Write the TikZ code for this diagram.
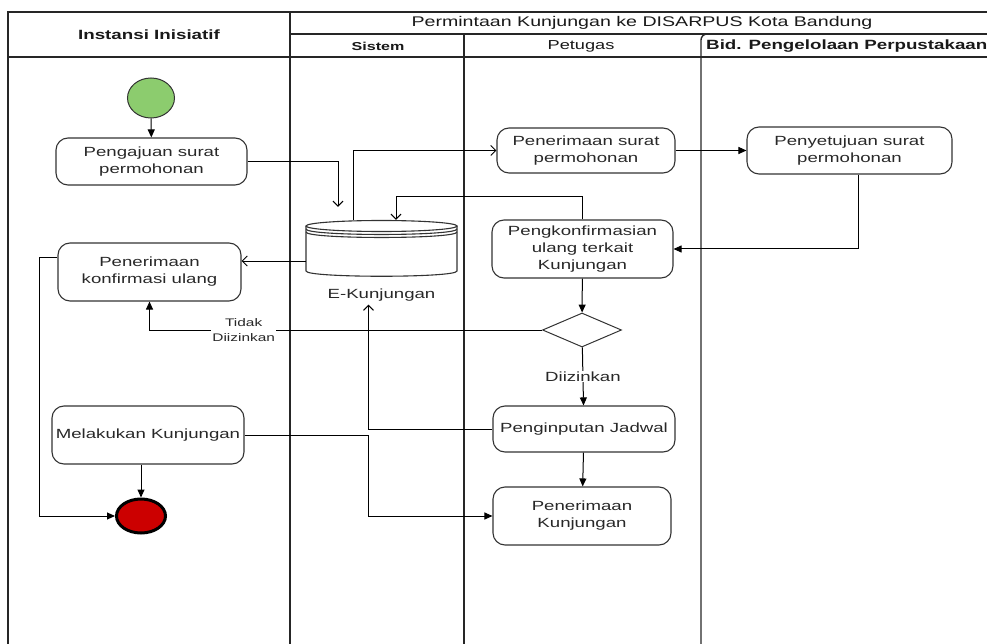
\documentclass[tikz,border=0pt]{standalone}
\usepackage{fontspec}
\setmainfont{Liberation Sans}[FakeStretch=1.4]
\usetikzlibrary{arrows.meta,positioning,calc,shapes.geometric}

\definecolor{startgreen}{RGB}{140,204,110}
\definecolor{endred}{RGB}{204,0,0}
\definecolor{txt}{RGB}{40,40,40}

\tikzstyle{act} = [rectangle, rounded corners=12pt,
draw=black!80, line width=1.1pt,
align=center, text=txt, inner sep=1pt,
font=\fontsize{13.3}{17}\selectfont]
\tikzstyle{lane} = [draw=black!85, line width=1.4pt]
\tikzstyle{hdr} = [inner sep=0pt, text=black!90]
\tikzstyle{lbl} = [fill=white, align=center, text=txt, inner sep=1pt,
font=\fontsize{11}{15}\selectfont]
\tikzstyle{dbline} = [draw=black!80, line width=1.1pt]
\tikzstyle{arrow} = [-{Triangle[length=8pt,width=7pt]}, line width=1pt]
\tikzstyle{open} = [-{Straight Barb[length=5pt,width=10pt]}, line width=1pt]

\begin{document}
\begin{tikzpicture}[x=1pt, y=-1pt]
  \useasboundingbox (0,0) rectangle (987,644);

  % swimlanes
  \draw[lane] (8,644) -- (8,12) -- (987,12);
  \draw[lane] (290,12) -- (290,644);
  \draw[lane] (290,34) -- (987,34);
  \draw[lane] (8,57) -- (987,57);
  \draw[lane] (464,34) -- (464,644);
  \draw[lane, rounded corners=6pt] (701,644) -- (701,34) -- (720,34);

  \node[hdr, font=\bfseries\fontsize{13.4}{16}\selectfont] (hInst) at (149,35) {Instansi Inisiatif};
  \node[hdr, font=\fontsize{14}{16}\selectfont] (hJudul) at (642,23) {Permintaan Kunjungan ke DISARPUS Kota Bandung};
  \node[hdr, font=\bfseries\fontsize{11.5}{14}\selectfont] (hSistem) at (378,46) {Sistem};
  \node[hdr, font=\fontsize{13}{14}\selectfont] (hPetugas) at (581,46) {Petugas};
  \node[hdr, anchor=west, font=\bfseries\fontsize{13.4}{16}\selectfont] (hBid) at (706,46) {Bid. Pengelolaan Perpustakaan};

  % nodes
  \node[ellipse, draw=black!80, line width=1pt, fill=startgreen,
        minimum width=47, minimum height=40] (start) at (151,98) {};
  \node[act, minimum width=191, minimum height=47] (pengajuan)  at (151.5,161.5) {Pengajuan surat\\permohonan};
  \node[act, minimum width=183, minimum height=58] (terimaKonf) at (149.5,272)   {Penerimaan\\konfirmasi ulang};
  \node[act, minimum width=192, minimum height=58] (melakukan)  at (148,435)     {Melakukan Kunjungan};
  \node[ellipse, draw=black, line width=3pt, fill=endred,
        minimum width=49, minimum height=34] (finish) at (141,516) {};

  % data store
  \node[minimum width=151, minimum height=57, inner sep=0pt] (ekunj) at (381.5,248.5) {};
  \draw[dbline, fill=white] (306,226) -- (306,271) .. controls (306,278) and (457,278) .. (457,271) -- (457,226);
  \draw[dbline, fill=white] (381.5,226) ellipse [x radius=75.5, y radius=5.5];
  \foreach \k in {3,6}
    \draw[dbline] (306,226+\k) .. controls (306,233.3+\k) and (457,233.3+\k) .. (457,226+\k);
  \node[text=txt, font=\fontsize{13.3}{16}\selectfont, below=8pt of ekunj] (ekLabel) {E-Kunjungan};

  \node[act, minimum width=178, minimum height=45] (terimaSurat) at (586,150.5) {Penerimaan surat\\permohonan};
  \node[act, minimum width=181, minimum height=58] (konfirmasi)  at (582.5,249)  {Pengkonfirmasian\\ulang terkait\\Kunjungan};
  \node[diamond, draw=black!80, line width=1pt, minimum width=79, minimum height=34,
        inner sep=0pt] (dec) at (582,330) {};
  \node[act, minimum width=182, minimum height=46] (input)      at (584,429) {Penginputan Jadwal};
  \node[act, minimum width=178, minimum height=58] (terimaKunj) at (582,516) {Penerimaan\\Kunjungan};
  \node[act, minimum width=205, minimum height=47] (setuju)     at (849.5,150.5) {Penyetujuan surat\\permohonan};

  % connectors
  \draw[arrow] (start) -- (pengajuan);
  \draw[open] (pengajuan.east) -| ($(ekunj.north)+(-43.5,-13)$);
  \draw[open] ($(ekunj.north)+(-28.5,0)$) |- (terimaSurat.west);
  \draw[arrow] (terimaSurat) -- (setuju);
  \draw[arrow] ($(setuju.south)+(8.5,0)$) |- (konfirmasi.east);
  \draw[open] (konfirmasi.north) -- ++(0,-23) -| ($(ekunj.north)+(14.5,0)$);
  \draw[open] ($(ekunj.west)+(0,12.5)$) -- ($(terimaKonf.east)+(0,-11)$);
  \draw[arrow] (konfirmasi) -- (dec);
  \draw[arrow] (dec.west) -| node[lbl, pos=0.38] {Tidak\\Diizinkan} (terimaKonf.south);
  \draw[arrow] (dec) -- node[lbl, font=\fontsize{13.3}{16}\selectfont] {Diizinkan} (input);
  \draw[open] (input.west) -| ($(ekLabel.south)+(-13,0)$);
  \draw[arrow] (input) -- (terimaKunj);
  \draw[arrow] (melakukan.east) -- ++(124,0) |- (terimaKunj.west);
  \draw[arrow] (melakukan.south -| finish) -- (finish);
  \draw[arrow] ($(terimaKonf.west)+(0,-14)$) -- ++(-18,0) |- (finish.west);
\end{tikzpicture}
\end{document}
